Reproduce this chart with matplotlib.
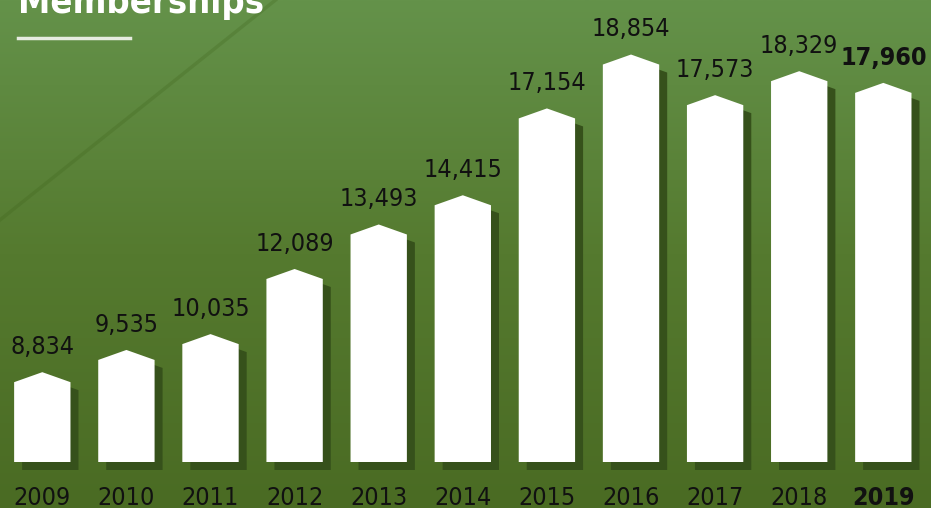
import numpy as np
import matplotlib
matplotlib.use("Agg")
import matplotlib.pyplot as plt
from matplotlib.patches import Polygon
from matplotlib.transforms import ScaledTranslation
from matplotlib.colors import LinearSegmentedColormap

years = ["2009", "2010", "2011", "2012", "2013", "2014", "2015", "2016", "2017", "2018", "2019"]
members = [8834, 9535, 10035, 12089, 13493, 14415, 17154, 18854, 17573, 18329, 17960]
title = "Memberships"

plt.rcParams['font.family'] = ["DejaVu Sans"]
plt.rcParams['font.stretch'] = "condensed"

fig = plt.figure(figsize=(9.31, 5.08), dpi=100)
ax = fig.add_axes([0, 0, 1, 1])

# background: green gradient, lighter at top
bg = LinearSegmentedColormap.from_list("bg", ["#4a6b23", "#557a2f", "#64924a"])
grad = np.linspace(0, 1, 256).reshape(-1, 1)
ax.imshow(grad, cmap=bg, aspect="auto", extent=[0, 1, 0, 1],
          transform=ax.transAxes, origin="lower", zorder=0)
# faint leaf vein
ax.plot([0.296, 0.0], [1.0, 0.567], transform=ax.transAxes,
        color="#3d6219", alpha=0.25, lw=2.5, zorder=1)

base = 6000
px_per_unit = 0.0317
ymin = base - 46 / px_per_unit
ymax = ymin + 508 / px_per_unit
ax.set_xlim(-0.503, 10.567)
ax.set_ylim(ymin, ymax)
ax.axis("off")

w = 0.67
roof = 10 / px_per_unit
shadow = ScaledTranslation(8 / 100, -8 / 100, fig.dpi_scale_trans)

for i, (yr, v) in enumerate(zip(years, members)):
    pts = [(i - w / 2, base), (i + w / 2, base), (i + w / 2, v - roof),
           (i, v), (i - w / 2, v - roof)]
    ax.add_patch(Polygon(pts, closed=True, facecolor="#36511b", edgecolor="none",
                         transform=ax.transData + shadow, zorder=2))
    ax.add_patch(Polygon(pts, closed=True, facecolor="white", edgecolor="none", zorder=3))
    last = i == len(years) - 1
    ax.annotate(f"{v:,}", (i, v), xytext=(0, 13), textcoords="offset points",
                ha="center", va="baseline", fontsize=18, color="#111111",
                fontweight="bold" if last else "normal", zorder=4)
    ax.annotate(yr, (i, base), xytext=(0, -17), textcoords="offset points",
                ha="center", va="top", fontsize=18, color="#111111",
                fontweight="bold" if last else "normal", zorder=4)

fig.text(18 / 931, 1 - 13 / 508, title, ha="left", va="baseline", fontsize=26,
         fontweight="bold", color="white")
fig.add_artist(plt.Line2D([18 / 931, 130 / 931], [1 - 38 / 508, 1 - 38 / 508],
                          color="#e6ebe0", lw=2.5, transform=fig.transFigure))

fig.savefig("out.png", dpi=100)
